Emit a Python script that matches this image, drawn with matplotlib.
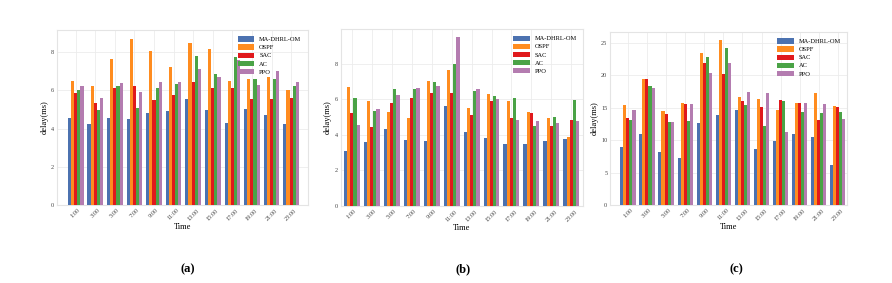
import numpy as np
import matplotlib
matplotlib.use('Agg')
import matplotlib.pyplot as plt

plt.rcParams['font.family'] = ['Liberation Serif', 'DejaVu Serif']

times = ['1:00', '3:00', '5:00', '7:00', '9:00', '11:00',
         '13:00', '15:00', '17:00', '19:00', '21:00', '23:00']
methods = ['MA-DHRL-OM', 'OSPF', 'SAC', 'AC', 'PPO']
colors = ['#4c72b0', '#ff8c1f', '#e0191c', '#4aa346', '#b47cb0']

# (a)
a_ma = [4.55, 4.25, 4.55, 4.5, 4.8, 4.9, 5.55, 5.0, 4.3, 5.05, 4.7, 4.25]
a_ospf = [6.5, 6.25, 7.65, 8.7, 8.05, 7.25, 8.5, 8.15, 6.5, 6.6, 6.7, 6.05]
a_sac = [5.85, 5.35, 6.15, 6.25, 5.5, 5.75, 6.45, 6.15, 6.15, 5.55, 5.55, 5.6]
a_ac = [6.05, 5.0, 6.25, 5.1, 6.15, 6.35, 7.8, 6.85, 7.75, 6.6, 6.6, 6.25]
a_ppo = [6.25, 5.6, 6.4, 5.9, 6.45, 6.45, 7.1, 6.7, 7.6, 6.3, 7.0, 6.45]

# (b)
b_ma = [3.1, 3.62, 4.32, 3.74, 3.66, 5.6, 4.19, 3.83, 3.49, 3.49, 3.66, 3.79]
b_ospf = [6.67, 5.88, 5.28, 4.96, 7.06, 7.68, 5.54, 6.31, 5.93, 5.28, 4.94, 3.89]
b_sac = [5.26, 4.47, 5.78, 6.05, 6.33, 6.33, 5.11, 5.88, 4.94, 5.22, 4.51, 4.85]
b_ac = [6.07, 5.33, 6.57, 6.57, 7.0, 7.98, 6.46, 6.18, 6.08, 4.51, 5.0, 5.97]
b_ppo = [4.56, 5.46, 6.27, 6.63, 6.74, 9.5, 6.57, 6.03, 4.86, 4.79, 4.66, 4.77]

# (c)
c_ma = [9.0, 11.0, 8.1, 7.3, 12.6, 13.85, 14.6, 8.6, 9.9, 11.0, 10.5, 6.15]
c_ospf = [15.45, 19.5, 14.5, 15.8, 23.4, 25.5, 16.7, 16.4, 14.7, 15.7, 17.35, 15.3]
c_sac = [13.35, 19.5, 14.1, 15.65, 21.9, 20.2, 16.0, 15.1, 16.15, 15.75, 13.1, 15.15]
c_ac = [13.15, 18.4, 12.8, 12.9, 22.9, 24.2, 15.5, 12.2, 16.0, 14.35, 14.15, 14.35]
c_ppo = [14.7, 18.1, 12.8, 15.65, 20.3, 21.9, 17.4, 17.35, 11.2, 15.75, 15.65, 13.2]

panels = [
    ([a_ma, a_ospf, a_sac, a_ac, a_ppo], [0.064, 0.276, 0.281, 0.618], (-0.95, 11.85), 9.17, [0, 2, 4, 6, 8], '(a)', 0.211),
    ([b_ma, b_ospf, b_sac, b_ac, b_ppo], [0.382, 0.272, 0.272, 0.625], (-0.55, 11.6), 9.95, [0, 2, 4, 6, 8], '(b)', 0.519),
    ([c_ma, c_ospf, c_sac, c_ac, c_ppo], [0.684, 0.276, 0.266, 0.611], (-0.93, 11.5), 26.7, [0, 5, 10, 15, 20, 25], '(c)', 0.826),
]

fig = plt.figure(figsize=(8.92, 2.83), dpi=100)
x = np.arange(len(times))
w = 0.16

for series, pos, xl, ytop, yt, lab, lx in panels:
    ax = fig.add_axes(pos)
    for k in range(5):
        ax.bar(x + (k - 2) * w, series[k], w, color=colors[k], label=methods[k], zorder=3)
    ax.set_xlim(xl)
    ax.set_ylim(0, ytop)
    ax.set_yticks(yt)
    ax.set_xticks(x)
    ax.set_xticklabels(times, rotation=45, ha='center')
    ax.tick_params(labelsize=4.5, length=0, pad=2, colors='#444444')
    ax.grid(True, color='#ececec', linewidth=0.6, zorder=0)
    for s in ax.spines.values():
        s.set_color('#e4e4e4')
        s.set_linewidth(0.8)
    ax.set_xlabel('Time', fontsize=6, labelpad=1)
    ax.set_ylabel('delay(ms)', fontsize=6, labelpad=2)
    ax.legend(loc='upper right', frameon=False, fontsize=4.6, handlelength=2.6,
              handleheight=0.9, labelspacing=0.35, borderaxespad=0.6)
    fig.text(lx, 0.049, lab, fontsize=9, fontweight='bold', ha='center', va='center')

fig.savefig('out.png', dpi=100)
